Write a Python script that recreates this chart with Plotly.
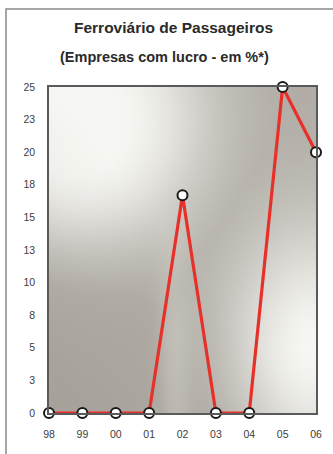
import numpy as np
import plotly.graph_objects as go

years = ["98", "99", "00", "01", "02", "03", "04", "05", "06"]
values = [0, 0, 0, 0, 16.7, 0, 0, 25, 20]
ytick_vals = [0, 2.5, 5, 7.5, 10, 12.5, 15, 17.5, 20, 22.5, 25]
ytick_text = ["0", "3", "5", "8", "10", "13", "15", "18", "20", "23", "25"]

W, H = 333, 454
L, R, T, B = 49, 17, 87, 41
pw, ph = W - L - R, H - T - B

# background gradient (style only), computed in pixel space
nx, ny = 134, 163
px = np.linspace(0, pw, nx)
py = np.linspace(0, ph, ny)  # 0 top
PX, PY = np.meshgrid(px, py)
r1 = np.sqrt((PX - 25) ** 2 + (PY - 35) ** 2)
b1 = np.exp(-(np.maximum(r1 - 45, 0) / 95) ** 2)
b2 = np.exp(-(((PX - 262) / 85) ** 2 + ((PY - 260) / 130) ** 2))
b3 = 0.15 * np.exp(-((PX - 125) / 18) ** 2) * np.clip((PY - 120) / 130, 0, 1)
bright = 0.45 + 0.55 * np.maximum(b1, b2) + b3
bright -= 0.18 * np.clip((PY / ph) - (PX / pw), 0, 1)
bright = np.clip(bright, 0, 1)
z = bright[::-1, :]
hx = np.linspace(0, len(years) - 1, nx)
hy = np.linspace(0, 25, ny)

fig = go.Figure()
fig.add_trace(go.Heatmap(
    x=hx, y=hy, z=z, zmin=0, zmax=1, zsmooth="fast", showscale=False,
    colorscale=[[0, "rgb(150,146,139)"], [0.45, "rgb(176,172,165)"], [1, "rgb(246,246,242)"]],
    hoverinfo="skip",
))
fig.add_trace(go.Scatter(
    x=list(range(len(years))), y=values, mode="lines+markers",
    line=dict(color="#e8302a", width=3.2),
    marker=dict(size=10, color="white", line=dict(color="#1a1a1a", width=2)),
    cliponaxis=False, showlegend=False,
))

axis_font = dict(family="Liberation Sans, Arial, sans-serif", size=10.5, color="#404040")
fig.update_xaxes(
    range=[0, len(years) - 1], tickmode="array", tickvals=list(range(len(years))), ticktext=years,
    showline=True, mirror=True, linecolor="#5a5a5a", linewidth=1.5, showgrid=False, zeroline=False,
    ticks="", tickfont=axis_font, ticklabelstandoff=11,
)
fig.update_yaxes(
    range=[0, 25], tickmode="array", tickvals=ytick_vals, ticktext=ytick_text,
    showline=True, mirror=True, linecolor="#5a5a5a", linewidth=1.5, showgrid=False, zeroline=False,
    ticks="", tickfont=axis_font, ticklabelstandoff=10,
)

fig.add_annotation(text="<b>Ferroviário de Passageiros</b>", xref="paper", yref="paper",
                   x=(173 - L) / pw, y=(H - B - 28) / ph, showarrow=False,
                   font=dict(family="Liberation Sans, Arial, sans-serif", size=15.5, color="#2a2a2a"),
                   xanchor="center", yanchor="middle")
fig.add_annotation(text="<b>(Empresas com lucro - em %*)</b>", xref="paper", yref="paper",
                   x=(164 - L) / pw, y=(H - B - 57) / ph, showarrow=False,
                   font=dict(family="Liberation Sans, Arial, sans-serif", size=14.5, color="#2a2a2a"),
                   xanchor="center", yanchor="middle")

# outer frame
fig.add_shape(type="rect", xref="paper", yref="paper",
              x0=(6 - L) / pw, x1=(345 - L) / pw, y0=(H - B - 470) / ph, y1=(H - B - 9) / ph,
              line=dict(color="#8a8a8a", width=1.5), fillcolor="rgba(0,0,0,0)", layer="below")

fig.update_layout(
    width=W, height=H, margin=dict(l=L, r=R, t=T, b=B),
    paper_bgcolor="white", plot_bgcolor="rgb(176,172,165)",
)
fig.write_html("out.html", config={"displayModeBar": False},
               post_script="document.body.style.margin='0';document.body.style.overflow='hidden';")
